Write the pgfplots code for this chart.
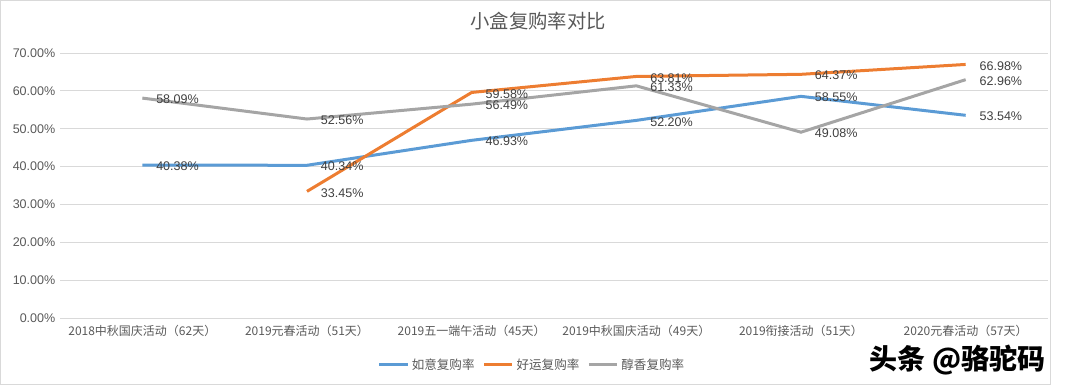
\documentclass[border=0pt]{standalone}
\usepackage{pgfplots}
\pgfplotsset{compat=1.18}
\usepackage{fontspec}
\setmainfont{Liberation Sans}
\newfontfamily\cjk{Noto Sans CJK SC}
\definecolor{cBlue}{HTML}{5B9BD5}
\definecolor{cOrange}{HTML}{ED7D31}
\definecolor{cGray}{HTML}{A5A5A5}
\definecolor{cGrid}{HTML}{D9D9D9}
\definecolor{cText}{HTML}{595959}
\definecolor{cLabel}{HTML}{404040}
\begin{document}
\begin{tikzpicture}[x=0.75pt,y=0.75pt]
\path[use as bounding box] (0,0) rectangle (1080,385);
\draw[cGrid, line width=0.75pt] (0.5,0.5) rectangle (1050,384.5);
\node[cText, font=\cjk\fontsize{14.5}{17}\selectfont] at (538,364) {小盒复购率对比};
\begin{axis}[
  at={(45pt,50.25pt)}, anchor=south west,
  scale only axis, width=741pt, height=198.75pt,
  xmin=-0.5, xmax=5.5, ymin=0, ymax=70,
  xtick={0,...,5},
  xticklabels={{2018中秋国庆活动（62天）},{2019元春活动（51天）},{2019五一端午活动（45天）},{2019中秋国庆活动（49天）},{2019衔接活动（51天）},{2020元春活动（57天）}},
  xticklabel style={font=\cjk\fontsize{9}{11}\selectfont, color=cText, yshift=-2pt},
  ytick={0,10,...,70},
  /pgf/number format/assume math mode=true,
  yticklabel={\pgfmathprintnumber[fixed,fixed zerofill,precision=2]{\tick}\%},
  yticklabel style={font=\fontsize{9.4}{11}\selectfont, color=cText},
  axis line style={draw=none},
  major tick length=0pt,
  ymajorgrids, grid style={cGrid, line width=0.75pt},
  nodes near coords={\pgfmathprintnumber[fixed,fixed zerofill,precision=2]{\pgfplotspointmeta}\%},
  every node near coord/.append style={anchor=west, color=cLabel, font=\fontsize{9.4}{11}\selectfont, xshift=6pt, yshift=-1pt},
  legend style={at={(0.478,-0.177)}, anchor=center, draw=none, legend columns=3,
    font=\cjk\fontsize{9.4}{11}\selectfont, text=cText,
    /tikz/every even column/.append style={column sep=4pt}},
  legend image code/.code={\draw[#1, line width=2.25pt] (0cm,0cm) -- (0.75cm,0cm);},
  clip=false,
]
\addplot[cBlue, line width=2.25pt] coordinates {(0,40.38) (1,40.34) (2,46.93) (3,52.20) (4,58.55) (5,53.54)};
\addlegendentry{如意复购率}
\addplot[cOrange, line width=2.25pt] coordinates {(1,33.45) (2,59.58) (3,63.81) (4,64.37) (5,66.98)};
\addlegendentry{好运复购率}
\addplot[cGray, line width=2.25pt] coordinates {(0,58.09) (1,52.56) (2,56.49) (3,61.33) (4,49.08) (5,62.96)};
\addlegendentry{醇香复购率}
\end{axis}
\node[black, font=\cjk\bfseries\fontsize{21}{24}\selectfont, anchor=east] at (1050,25) {头条 @骆驼码};
\end{tikzpicture}
\end{document}
